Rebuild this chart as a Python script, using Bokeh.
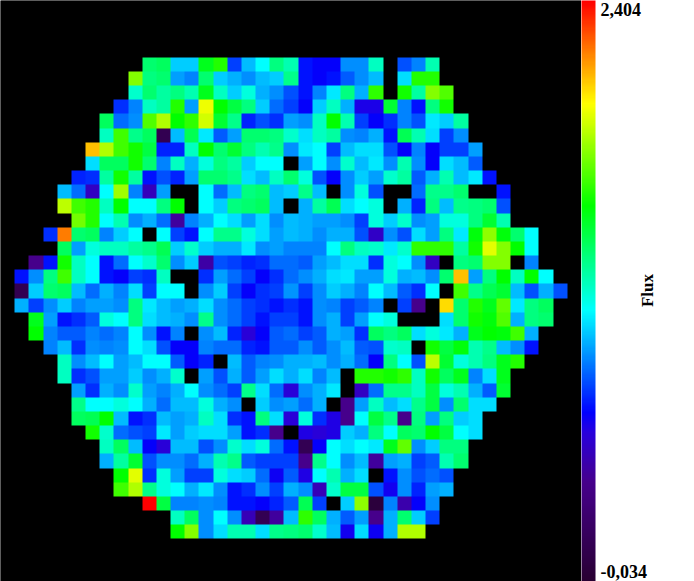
import math
import numpy as np
from bokeh.embed import file_html
from bokeh.layouts import row as layout_row
from bokeh.resources import INLINE
from bokeh.models import LinearColorMapper, ColorBar, FixedTicker, Label, Range1d
from bokeh.plotting import figure

_ = None
flux_low = -0.034
flux_high = 2.404
label_high = "2,404"
label_low = "-0,034"
bar_title = "Flux"
n_cells = 41

r04 = [_]*10 + [1.35,1.38,1.02,1.02,1.49,1.60,.78,.99,1.10,1.32,1.24,.70,.67,.67,.91,.91,1.21,_,.81,.89,1.24]
r05 = [_]*9 + [1.76,1.32,1.35,.94,.89,1.35,1.02,.97,.91,.99,1.02,1.30,.70,.67,.70,.83,.91,.99,_,1.05,1.60,1.60]
r06 = [_]*9 + [1.185,1.35,1.27,1.32,1.24,1.49,1.21,1.02,1.16,.97,.91,.81,.70,.89,1.07,1.32,.97,1.62,_,1.57,1.27,1.76,1.68]
r07 = [_]*8 + [.75,.89,1.21,1.27,1.60,.94,1.94,1.54,1.43,1.32,1.02,.86,.78,.67,1.02,1.21,.97,.62,.62,1.46,.89,.70,1.32,1.57]
r08 = [_]*7 + [1.38,.86,.91,1.68,1.84,1.54,1.62,1.89,1.46,1.30,.73,.81,.75,.94,.91,1.21,1.54,1.24,.78,.67,.75,.89,.81,1.07,1.02,1.27]
r09 = [_]*7 + [1.21,1.65,1.30,1.38,.11,.99,1.40,1.07,.83,.94,1.35,1.35,1.32,1.185,1.05,1.21,1.27,.91,.89,.97,.70,1.40,1.24,1.05,.78,.91]
r10 = [_]*6 + [2.08,1.84,1.65,1.57,1.43,.73,.73,1.21,1.54,1.35,1.46,1.32,1.24,1.30,.91,1.07,1.10,.78,.99,1.05,1.05,.81,.67,.89,.67,.78,.78,.94]
r11 = [_]*6 + [1.05,1.38,1.38,1.57,1.35,.89,1.21,.97,1.16,1.32,1.27,1.02,1.10,1.10,_,.94,1.10,.91,1.185,.99,1.07,.91,1.24,.91,.67,1.05,.99,.83]
r12 = [_]*5 + [.73,.75,1.27,1.57,1.27,.70,.81,.73,.94,1.35,1.35,1.30,1.05,.99,1.21,1.35,1.16,.81,.67,.91,1.02,.94,1.185,1.27,.83,.97,1.24,.99,1.07,.70]
r13 = [_]*4 + [.99,.86,.52,1.10,1.81,.89,.50,.94,_,_,1.10,.86,.99,1.32,1.35,.99,1.02,1.30,.99,_,.91,1.16,.81,_,_,.86,1.30,1.30,1.35,_,_,.70]
r14 = [_]*4 + [1.86,1.65,1.60,1.21,1.54,1.10,1.10,1.32,1.54,_,1.10,1.02,1.32,1.35,1.38,.99,_,.97,1.27,1.40,1.05,1.10,1.16,_,.97,.73,1.32,.99,1.30,1.32,1.35,.81]
r15 = [_]*5 + [1.73,1.60,1.10,1.24,.91,.97,.86,.43,.89,.97,1.10,1.05,.94,1.05,.91,.99,.97,.94,.94,.91,.78,1.16,1.02,1.185,.91,.94,1.16,1.16,1.32,1.46,1.24]
r16 = [_]*3 + [.75,2.19,1.35,1.38,.89,1.02,1.10,_,1.10,.78,.70,1.10,1.30,1.30,1.16,1.05,.94,.99,.97,.91,.97,.97,.81,.53,.91,.81,1.05,.94,1.32,1.07,1.52,1.78,1.52,1.35,1.10]
r17 = [_]*4 + [1.38,.94,1.16,1.21,1.21,1.27,1.30,1.40,1.02,1.185,1.02,.97,.97,1.07,.91,.94,.89,.89,.89,1.10,1.32,1.21,1.185,1.07,1.185,1.62,1.62,1.62,1.27,1.57,1.92,1.76,1.54,1.10]
r18 = [_]*2 + [.38,.70,1.57,1.21,1.10,.70,.86,1.10,1.185,1.35,.91,1.02,.45,.81,.78,.73,.75,.86,.86,.83,.94,.99,1.05,1.05,.75,1.16,1.10,.91,.52,_,1.32,1.35,1.76,1.76,_,.89]
r19 = [_]*1 + [.70,.91,1.32,1.65,1.21,1.10,.70,.67,.78,.75,1.21,_,_,.75,.94,.86,.78,.67,.75,.86,.91,.97,1.05,1.07,.94,.94,1.16,.97,.99,.91,1.35,2.08,.94,1.32,1.54,1.21,1.54,1.10]
r20 = [_]*1 + [.11,1.02,1.35,1.38,.99,.86,.97,.89,1.05,.78,1.10,1.10,_,.91,1.02,.78,.67,.75,.78,.92,.78,.91,1.02,.97,.89,1.10,.99,.83,.75,1.10,_,1.65,1.30,1.40,1.46,.99,.81,.97,.81]
r21 = [_]*1 + [.97,.78,.91,1.02,.89,.94,.94,.91,1.32,1.07,.99,.94,.97,1.05,.91,.86,.78,.75,.70,.75,.70,.91,.89,.78,.83,.89,_,.78,.38,_,2.03,1.35,1.60,1.49,1.70,1.07,1.32,1.38]
r22 = [_]*2 + [1.49,.94,.70,.75,.83,1.16,1.10,1.32,1.05,.99,.97,.91,1.30,.91,.86,.78,.70,.78,.78,.70,.91,.97,.78,.94,1.10,1.16,_,_,_,1.05,1.35,1.57,1.52,1.68,.97,1.32,1.35]
r23 = [_]*2 + [1.54,.89,.83,.83,.89,.86,.89,1.10,.91,.70,.89,_,.91,.99,.73,.58,.67,.83,.86,.78,.83,.97,.94,.75,1.38,1.32,1.38,1.05,1.16,1.07,.97,1.49,1.54,1.52,1.65,.97]
r24 = [_]*3 + [.89,.99,.75,.91,.89,.91,1.10,1.05,.81,.67,.67,.89,.86,.86,.73,.70,.83,.83,.91,.83,.91,.99,.83,.81,1.185,1.21,_,1.57,1.43,1.52,1.24,1.30,.99,.91,.70]
r25 = [_]*4 + [1.21,.91,.99,1.10,.94,.99,1.10,1.10,.83,.67,.73,_,.99,.83,.89,.91,.97,.97,.99,.91,.97,.86,.67,1.32,1.10,.81,1.86,1.46,1.16,1.24,1.32,1.49,1.60]
r26 = [_]*4 + [1.21,.75,.81,.94,.94,1.02,.91,.97,1.185,_,.94,.81,.97,.83,.94,1.05,.97,1.05,.89,.99,_,1.60,1.60,1.57,1.62,1.21,1.57,1.38,1.49,.89,1.05,1.49]
r27 = [_]*5 + [.94,.75,.97,.91,1.185,.94,.89,.97,1.10,.91,.86,.78,1.30,1.05,.86,.58,.91,.97,1.07,_,.52,.86,1.30,1.30,1.21,1.43,1.16,1.24,.97,.83,1.46]
r28 = [_]*5 + [1.30,1.10,1.10,1.16,1.10,.97,.86,.99,.99,1.16,.97,.91,_,1.02,.91,.94,.86,.97,_,.38,.94,1.21,.99,1.05,1.30,1.43,.91,1.35,1.05,1.05]
r29 = [_]*5 + [1.38,1.40,1.54,.99,.70,.75,.99,.94,.97,1.21,1.05,.75,.70,1.32,1.05,.58,1.16,.75,.61,.38,1.10,1.43,1.30,.38,1.32,.94,1.32,1.02,1.05]
r30 = [_]*6 + [1.57,1.185,.86,.81,.78,1.07,.94,1.02,1.05,1.05,.94,.70,.75,.38,_,.61,.58,.61,1.02,.97,1.32,1.10,1.38,1.35,1.54,1.43,1.10,1.05]
r31 = [_]*7 + [1.21,1.38,.99,.67,.58,.99,.99,.81,.91,1.185,1.05,1.16,.86,.70,.12,.67,1.10,1.05,1.10,1.07,1.49,1.70,.91,1.02,1.32,1.32]
r32 = [_]*7 + [.97,1.27,1.46,.81,.91,.91,.86,.97,1.24,1.30,.83,.78,.78,.78,.38,1.30,1.10,.91,.99,.43,.94,.97,.78,.83,1.24,1.35]
r33 = [_]*8 + [1.54,1.92,.75,1.16,.94,.78,.78,1.16,1.05,1.02,.86,.65,.83,.61,1.10,1.24,.97,1.05,_,.70,.91,.81,.86,.81]
r34 = [_]*8 + [1.65,1.84,1.30,1.16,1.10,.97,1.07,.91,.70,.75,.91,.78,.97,.91,.49,1.185,1.43,1.43,.81,.64,.91,.73,.94,.97]
r35 = [_]*10 + [2.40,1.43,.89,.89,.91,.89,.70,.70,.67,.73,.83,1.40,.78,_,1.02,1.78,.02,.89,.47,.67,.91]
r36 = [_]*12 + [1.21,1.38,.91,1.10,.91,.49,.12,.43,.99,1.62,1.38,.97,.83,.94,.38,.97,1.35,1.02,.78]
r37 = [_]*12 + [1.54,1.76,.91,1.05,1.24,1.24,1.05,1.30,1.32,1.35,1.185,.99,.64,1.05,.65,.97,1.84,1.84]

rows = {4:r04,5:r05,6:r06,7:r07,8:r08,9:r09,10:r10,11:r11,12:r12,13:r13,14:r14,15:r15,16:r16,17:r17,18:r18,
        19:r19,20:r20,21:r21,22:r22,23:r23,24:r24,25:r25,26:r26,27:r27,28:r28,29:r29,30:r30,31:r31,32:r32,
        33:r33,34:r34,35:r35,36:r36,37:r37}

# colour stops of the bar: position along the scale, red, green, blue
stops = [(0,40,0,50),(.17,70,0,140),(.255,40,0,220),(.29,0,0,255),(.466,0,255,255),(.647,0,255,0),(.823,255,255,0),(1,255,0,0)]

def ramp(n=256):
    out = []
    for i in range(n):
        f = i/(n-1)
        for a, b in zip(stops, stops[1:]):
            if f <= b[0]:
                t = (f-a[0])/(b[0]-a[0])
                out.append("#%02x%02x%02x" % tuple(round(a[k]+t*(b[k]-a[k])) for k in (1,2,3)))
                break
    return out

grid = np.full((n_cells, n_cells), np.nan)
for r, row in rows.items():
    for c, v in enumerate(row):
        if v is not None:
            grid[n_cells-1-r, c] = v

mapper = LinearColorMapper(palette=ramp(), low=flux_low, high=flux_high, nan_color="black")

p = figure(width=581, height=581, x_range=Range1d(0,n_cells), y_range=Range1d(0,n_cells),
           output_backend="svg", toolbar_location=None, min_border=0,
           background_fill_color="black", border_fill_color="white", outline_line_color=None,
           margin=(0,0,0,0), stylesheets=["svg image { image-rendering: pixelated; }"])
p.axis.visible = False
p.grid.visible = False
p.image(image=[grid], x=0, y=0, dw=n_cells, dh=n_cells, color_mapper=mapper)

q = figure(width=113, height=581, x_range=Range1d(0,113), y_range=Range1d(0,581),
           output_backend="svg", toolbar_location=None, min_border=0,
           background_fill_color="white", border_fill_color="white", outline_line_color=None,
           margin=(0,0,0,0))
q.axis.visible = False
q.grid.visible = False
cb = ColorBar(color_mapper=mapper, width=14, height=581, padding=0, margin=0, location=(0,0),
              ticker=FixedTicker(ticks=[]), major_tick_line_color=None, minor_tick_line_color=None,
              bar_line_color=None, border_line_color=None, background_fill_alpha=0)
q.add_layout(cb, "center")

font = dict(text_font="Liberation Serif", text_font_style="bold", text_font_size="18px", text_color="black")
q.add_layout(Label(x=19, y=572, text=label_high, text_baseline="alphabetic", **font))
q.add_layout(Label(x=19, y=10, text=label_low, text_baseline="alphabetic", **font))
q.add_layout(Label(x=66, y=291, text=bar_title, angle=math.pi/2, text_align="center", text_baseline="middle",
                   **{**font, "text_font_size":"17px"}))

page = layout_row(p, q, spacing=0, margin=(0,0,0,0))
open("out.html","w").write(file_html(page, INLINE))
